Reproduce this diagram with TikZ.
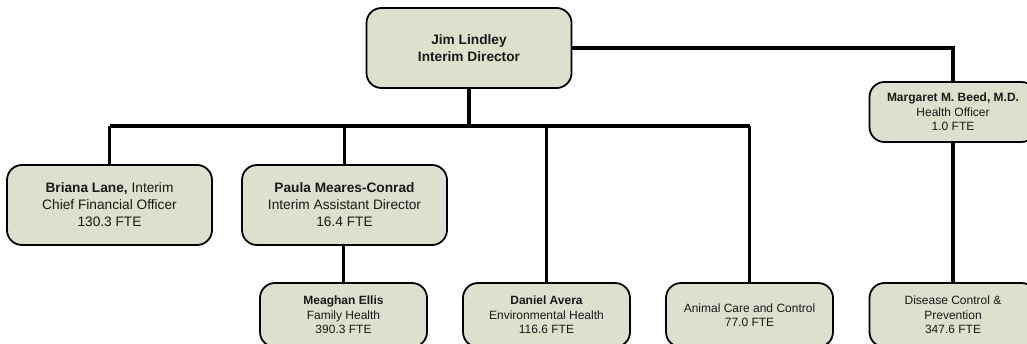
\documentclass[tikz,border=0pt]{standalone}
\usepackage{fontspec}
\setmainfont{Liberation Sans}
\definecolor{boxfill}{RGB}{221,224,204}
\definecolor{txt}{RGB}{25,25,25}
\tikzset{
  orgbox/.style={draw=black, line width=1.8pt, fill=boxfill, rounded corners=15pt,
    align=center, inner sep=0pt, text=txt},
  bigbox/.style={orgbox, minimum width=205pt, minimum height=80pt,
    font=\fontsize{13.7}{17}\selectfont},
  smallbox/.style={orgbox, minimum width=167pt, minimum height=60pt,
    font=\fontsize{12}{14.5}\selectfont},
  lowbox/.style={smallbox, minimum height=64pt},
  conn/.style={line width=3.5pt, draw=black}
}
\begin{document}
\begin{tikzpicture}[x=1pt,y=1pt]
\useasboundingbox (0,0) rectangle (1027,-343);
\coordinate (bus) at (469,-126);
\node[bigbox] (jim) at (469,-48) {\textbf{Jim Lindley}\\\textbf{Interim Director}};
\node[bigbox] (bri) at (109.5,-205) {\textbf{Briana Lane,} Interim\\Chief Financial Officer\\130.3 FTE};
\node[bigbox] (pau) at (344.5,-205) {\textbf{Paula Meares-Conrad}\\Interim Assistant Director\\16.4 FTE};
\node[smallbox] (mar) at (953,-112) {\textbf{Margaret M. Beed, M.D.}\\Health Officer\\1.0 FTE};
\node[lowbox] (mea) at (343.5,-315) {\textbf{Meaghan Ellis}\\Family Health\\390.3 FTE};
\node[lowbox] (dan) at (546.5,-315) {\textbf{Daniel Avera}\\Environmental Health\\116.6 FTE};
\node[lowbox] (ani) at (749.5,-315) {Animal Care and Control\\77.0 FTE};
\node[lowbox] (dis) at (953,-315) {Disease Control \&\\Prevention\\347.6 FTE};
\draw[conn] (jim.south) -- (bus);
\draw[conn] (bus -| bri.north) -- (bus -| ani.north);
\draw[conn] (bus -| bri.north) -- (bri.north);
\draw[conn] (bus -| pau.north) -- (pau.north);
\draw[conn] (pau.south -| mea.north) -- (mea.north);
\draw[conn] (bus -| dan.north) -- (dan.north);
\draw[conn] (bus -| ani.north) -- (ani.north);
\draw[conn] (jim.east) -| (mar.north);
\draw[conn] (mar.south) -- (dis.north);
\end{tikzpicture}
\end{document}
